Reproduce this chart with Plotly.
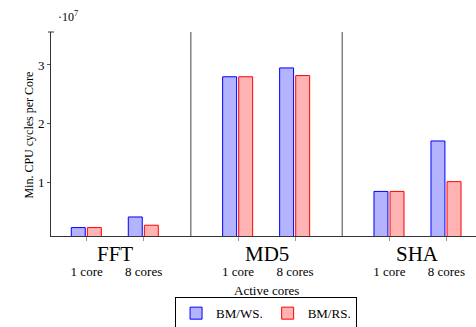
import plotly.graph_objects as go

groups = ["FFT", "MD5", "SHA"]
cores = ["1 core", "8 cores"]
ws_vals = [0.24, 0.42, 2.80, 2.95, 0.854, 1.71]   # x 10^7
rs_vals = [0.24, 0.28, 2.80, 2.82, 0.854, 1.02]   # x 10^7
series_names = ["BM/WS.", "BM/RS."]
y_ticks = [1, 2, 3]

GROUP_STEP = 2.655
xs = [g * GROUP_STEP + c for g in range(len(groups)) for c in range(len(cores))]
xlabels = [c for g in groups for c in cores]

FONT = "Liberation Serif"
fig = go.Figure()
fig.add_trace(go.Bar(
    x=xs, y=ws_vals, name=series_names[0], offset=-0.27, width=0.245,
    marker=dict(color="rgb(179,179,255)", line=dict(color="blue", width=1)),
))
fig.add_trace(go.Bar(
    x=xs, y=rs_vals, name=series_names[1], offset=0.012, width=0.245,
    marker=dict(color="rgb(255,179,179)", line=dict(color="red", width=1)),
))

shapes = []
for g in range(len(groups) - 1):
    xm = (g * GROUP_STEP + len(cores) - 1 + (g + 1) * GROUP_STEP) / 2
    shapes.append(dict(type="line", xref="x", yref="paper", x0=xm, x1=xm, y0=0, y1=1,
                       line=dict(color="#444", width=1)))
shapes.append(dict(type="line", xref="paper", yref="paper", x0=-0.007, x1=0.007, y0=1, y1=1,
                   line=dict(color="#333", width=1)))

annotations = []
for g, name in enumerate(groups):
    annotations.append(dict(x=g * GROUP_STEP + 0.5, y=0, xref="x", yref="paper",
                            text=name, showarrow=False, yanchor="top", yshift=-4,
                            font=dict(family=FONT, size=21, color="black")))
annotations.append(dict(x=0.506, y=0, xref="paper", yref="paper", text="Active cores",
                        showarrow=False, yanchor="top", yshift=-45,
                        font=dict(family=FONT, size=13, color="black")))
annotations.append(dict(x=-0.073, y=0.497, xref="paper", yref="paper",
                        text="Min. CPU cycles per Core", textangle=-90, showarrow=False,
                        font=dict(family=FONT, size=12, color="black")))
annotations.append(dict(x=0.012, y=1.03, xref="paper", yref="paper", xanchor="left",
                        yanchor="bottom", text="·10<sup>7</sup>", showarrow=False,
                        font=dict(family=FONT, size=12, color="black")))

fig.update_layout(
    width=476, height=327,
    margin=dict(l=51, r=0, t=32, b=91, autoexpand=False),
    plot_bgcolor="white", paper_bgcolor="white",
    font=dict(family=FONT, size=12, color="black"),
    showlegend=True,
    legend=dict(orientation="h", x=0.506, xanchor="center", y=-0.30, yanchor="top",
                bordercolor="black", borderwidth=1, bgcolor="white",
                font=dict(family=FONT, size=13, color="black"), itemwidth=30),
    xaxis=dict(range=[-0.626, 6.83], tickmode="array", tickvals=xs, ticktext=xlabels,
               showline=True, linecolor="#333", linewidth=1, ticks="outside", ticklen=4,
               tickcolor="#999", showgrid=False, zeroline=False, automargin=False,
               tickfont=dict(family=FONT, size=13, color="black"), ticklabelstandoff=19),
    yaxis=dict(range=[0.097, 3.56], tickvals=y_ticks, showline=True, linecolor="#333",
               linewidth=1, ticks="outside", ticklen=3, tickcolor="#555", showgrid=False,
               zeroline=False, automargin=False,
               tickfont=dict(family=FONT, size=13, color="black")),
    shapes=shapes, annotations=annotations,
)
fig.write_html("out.html", config={"displayModeBar": False},
               post_script="document.body.style.margin='0';document.body.style.overflow='hidden';")
